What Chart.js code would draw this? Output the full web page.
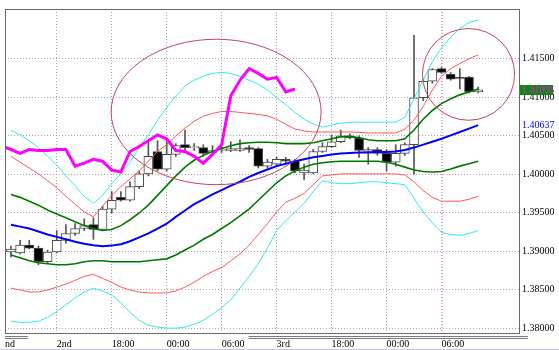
<!DOCTYPE html>
<html><head><meta charset="utf-8">
<script src="https://cdn.jsdelivr.net/npm/chart.js@4.4.0/dist/chart.umd.min.js"></script>
<style>html,body{margin:0;padding:0;background:#fff;overflow:hidden}#wrap{width:559px;height:350px}</style>
</head><body><div id="wrap"><canvas id="c" width="559" height="350"></canvas></div>
<script>
// ---- data (hourly bars, index 0..51) ----
const openP  = [1.38989,1.38977,1.39078,1.39040,1.38862,1.38989,1.39141,1.39230,1.39294,1.39344,
                1.39281,1.39547,1.39699,1.39661,1.39839,1.40004,1.40295,1.40067,1.40257,1.40384,
                1.40346,1.40346,1.40283,1.40308,1.40308,1.40308,1.40346,1.40333,1.40105,1.40130,
                1.40194,1.40169,1.40016,1.40016,1.40295,1.40359,1.40422,1.40498,1.40473,1.40295,
                1.40321,1.40270,1.40156,1.40270,1.40384,1.40993,1.41208,1.41373,1.41297,1.41259,
                1.41259,1.41069];
const highP  = [1.39065,1.39141,1.39141,1.39065,1.39015,1.39268,1.39344,1.39357,1.39420,1.39433,
                1.39585,1.39775,1.39775,1.39902,1.40042,1.40422,1.40435,1.40422,1.40397,1.40574,
                1.40397,1.40384,1.40371,1.40371,1.40422,1.40447,1.40371,1.40346,1.40194,1.40219,
                1.40219,1.40194,1.40130,1.40321,1.40409,1.40511,1.40574,1.40524,1.40498,1.40346,
                1.40346,1.40321,1.40384,1.40409,1.41804,1.41234,1.41373,1.41386,1.41322,1.41373,
                1.41272,1.41132];
const lowP   = [1.38926,1.38964,1.39027,1.38824,1.38837,1.38977,1.39103,1.39205,1.39268,1.39154,
                1.39268,1.39496,1.39649,1.39649,1.39813,1.39978,1.40042,1.40042,1.40232,1.40295,
                1.40308,1.40232,1.40257,1.40283,1.40295,1.40295,1.40283,1.40080,1.40080,1.40105,
                1.40143,1.40016,1.39928,1.40004,1.40283,1.40346,1.40409,1.40460,1.40219,1.40130,
                1.40245,1.40042,1.40105,1.40245,1.40004,1.40955,1.41183,1.41310,1.41221,1.41107,
                1.41056,1.41056];
const closeP = [1.39027,1.39078,1.39040,1.38862,1.38989,1.39141,1.39230,1.39294,1.39332,1.39281,
                1.39547,1.39661,1.39661,1.39839,1.40004,1.40232,1.40067,1.40257,1.40371,1.40346,
                1.40359,1.40270,1.40308,1.40321,1.40333,1.40333,1.40321,1.40105,1.40156,1.40194,
                1.40169,1.40042,1.40054,1.40295,1.40359,1.40422,1.40498,1.40473,1.40308,1.40321,
                1.40270,1.40156,1.40270,1.40384,1.40993,1.41208,1.41361,1.41322,1.41234,1.41246,
                1.41069,1.41095];
const middleBand = [1.39344,1.39319,1.39294,1.39256,1.39217,1.39186,1.39154,1.39122,1.39097,1.39078,
                1.39065,1.39072,1.39091,1.39129,1.39179,1.39230,1.39294,1.39357,1.39446,1.39528,
                1.39611,1.39674,1.39737,1.39794,1.39851,1.39902,1.39966,1.40016,1.40061,1.40105,
                1.40137,1.40169,1.40194,1.40219,1.40238,1.40257,1.40270,1.40276,1.40283,1.40283,
                1.40289,1.40289,1.40295,1.40314,1.40346,1.40384,1.40422,1.40460,1.40505,1.40549,
                1.40593,1.40637];
const band1Upper = [1.39737,1.39699,1.39649,1.39598,1.39535,1.39484,1.39433,1.39382,1.39332,1.39294,
                1.39268,1.39281,1.39332,1.39408,1.39496,1.39598,1.39725,1.39851,1.39978,1.40092,
                1.40181,1.40245,1.40295,1.40333,1.40371,1.40397,1.40409,1.40416,1.40416,1.40409,
                1.40397,1.40397,1.40397,1.40409,1.40435,1.40460,1.40485,1.40492,1.40473,1.40447,
                1.40435,1.40435,1.40435,1.40460,1.40574,1.40714,1.40828,1.40917,1.40980,1.41031,
                1.41069,1.41107];
const band1Lower = [1.38951,1.38913,1.38875,1.38850,1.38837,1.38824,1.38824,1.38837,1.38862,1.38875,
                1.38875,1.38862,1.38862,1.38862,1.38862,1.38875,1.38888,1.38900,1.38951,1.39015,
                1.39078,1.39154,1.39217,1.39294,1.39370,1.39458,1.39547,1.39661,1.39775,1.39889,
                1.39978,1.40042,1.40092,1.40130,1.40149,1.40162,1.40169,1.40169,1.40169,1.40169,
                1.40169,1.40156,1.40130,1.40092,1.40054,1.40035,1.40029,1.40035,1.40067,1.40105,
                1.40137,1.40169];
const band2Upper = [1.40232,1.40156,1.40080,1.40004,1.39915,1.39826,1.39712,1.39611,1.39509,1.39446,
                1.39585,1.39725,1.39839,1.39940,1.40042,1.40169,1.40295,1.40384,1.40498,1.40600,
                1.40688,1.40752,1.40790,1.40815,1.40815,1.40803,1.40790,1.40777,1.40758,1.40714,
                1.40650,1.40587,1.40562,1.40549,1.40549,1.40549,1.40549,1.40549,1.40543,1.40536,
                1.40536,1.40536,1.40536,1.40587,1.40701,1.40879,1.41094,1.41272,1.41373,1.41437,
                1.41500,1.41551];
const band2Lower = [1.38520,1.38495,1.38469,1.38469,1.38495,1.38533,1.38571,1.38621,1.38672,1.38698,
                1.38647,1.38596,1.38533,1.38495,1.38469,1.38457,1.38457,1.38457,1.38482,1.38533,
                1.38596,1.38672,1.38736,1.38786,1.38875,1.38964,1.39078,1.39217,1.39357,1.39509,
                1.39636,1.39687,1.39750,1.39864,1.39978,1.39991,1.40004,1.40004,1.40004,1.40004,
                1.40004,1.40004,1.40004,1.39991,1.39902,1.39788,1.39699,1.39649,1.39649,1.39649,
                1.39674,1.39712];
const band3Upper = [1.40574,1.40511,1.40435,1.40346,1.40232,1.40118,1.39978,1.39851,1.39712,1.39623,
                1.39725,1.39877,1.40004,1.40156,1.40346,1.40511,1.40701,1.40866,1.41018,1.41145,
                1.41221,1.41272,1.41310,1.41322,1.41310,1.41272,1.41221,1.41170,1.41094,1.40993,
                1.40904,1.40803,1.40714,1.40650,1.40612,1.40638,1.40663,1.40676,1.40676,1.40676,
                1.40676,1.40676,1.40676,1.40739,1.40980,1.41221,1.41462,1.41639,1.41779,1.41893,
                1.41969,1.42007];
const band3Lower = [1.38089,1.38076,1.38076,1.38089,1.38140,1.38216,1.38304,1.38393,1.38469,1.38520,
                1.38482,1.38431,1.38330,1.38203,1.38101,1.38038,1.38013,1.38000,1.38000,1.38013,
                1.38051,1.38101,1.38178,1.38266,1.38368,1.38520,1.38672,1.38837,1.39040,1.39268,
                1.39395,1.39509,1.39623,1.39775,1.39915,1.39889,1.39877,1.39877,1.39889,1.39902,
                1.39902,1.39889,1.39877,1.39864,1.39687,1.39509,1.39370,1.39243,1.39217,1.39205,
                1.39230,1.39268];
const laggingStart = -1;
const laggingSpan = [1.40371,1.40321,1.40270,1.40321,1.40308,1.40308,1.40321,1.40321,1.40105,1.40143,
                1.40194,1.40169,1.40054,1.40029,1.40295,1.40359,1.40435,1.40511,1.40460,1.40308,
                1.40295,1.40232,1.40143,1.40257,1.40384,1.41018,1.41221,1.41373,1.41310,1.41234,
                1.41259,1.41069,1.41107];
const xTickPos    = [-0.649, 5, 11, 17, 23, 29, 35, 41, 47];
const xTickLabels = ['nd','2nd','18:00','00:00','06:00','3rd','18:00','00:00','06:00'];
const yTicks = [1.380,1.385,1.390,1.395,1.400,1.405,1.410,1.415];
const ellipseCenterX = [22.4, 49.95];
const ellipseCenterY = [1.40809, 1.41297];
const ellipseRadiusX = [11.46, 5.03];
const ellipseRadiusY = [0.00945, 0.00596];
const separatorStart = [-0.649, 25.95];
const separatorEnd   = [1.84, 56.43];

// ---- build ----
const N = openP.length;
const idx = openP.map((_, k) => k);
const bodyData = idx.map(k => ({x: k, y: [openP[k], closeP[k]]}));
const wickData = idx.map(k => ({x: k, y: [lowP[k], highP[k]]}));
const bodyFill = idx.map(k => closeP[k] >= openP[k] ? '#ffffff' : '#000000');
const pts = (arr, start) => arr.map((v, k) => ({x: k + start, y: v}));
const lineDs = (arr, start, color, w, order) => ({type:'line', data: pts(arr, start), borderColor: color,
  borderWidth: w, pointRadius: 0, tension: 0, fill: false, order});

const FONT = "'Liberation Serif', 'Times New Roman', serif";
Chart.defaults.font.family = FONT;
Chart.defaults.font.size = 10;
Chart.defaults.color = '#000';
const gridCol = 'rgb(190,155,180)';

const deco = {
  id: 'deco',
  beforeDraw(chart) {
    const c = chart.ctx; c.save(); c.fillStyle = '#fff'; c.fillRect(0, 0, chart.width, chart.height); c.restore();
  },
  afterDatasetsDraw(chart) {
    const {ctx, chartArea: a, scales: {x, y}} = chart;
    ctx.save();
    ctx.beginPath(); ctx.rect(a.left, a.top, a.right - a.left, a.bottom - a.top); ctx.clip();
    ctx.strokeStyle = '#c04858'; ctx.lineWidth = 1;
    for (let k = 0; k < ellipseCenterX.length; k++) {
      const cx = x.getPixelForValue(ellipseCenterX[k]), cy = y.getPixelForValue(ellipseCenterY[k]);
      const rx = Math.abs(x.getPixelForValue(ellipseCenterX[k] + ellipseRadiusX[k]) - cx);
      const ry = Math.abs(y.getPixelForValue(ellipseCenterY[k] + ellipseRadiusY[k]) - cy);
      ctx.beginPath(); ctx.ellipse(cx, cy, rx, ry, 0, 0, Math.PI * 2); ctx.stroke();
    }
    ctx.restore();
  },
  afterDraw(chart) {
    const {ctx, chartArea: a, scales: {x, y}} = chart;
    ctx.save();
    ctx.strokeStyle = '#6a6a6a'; ctx.lineWidth = 1;
    ctx.strokeRect(a.left + 0.5, a.top + 0.5, a.right - a.left, a.bottom - a.top);
    ctx.strokeStyle = '#7a7a7a';
    for (let k = 0; k < separatorStart.length; k++) {
      const x0 = x.getPixelForValue(separatorStart[k]), x1 = x.getPixelForValue(separatorEnd[k]);
      [3.5, 5.5].forEach(dy => { ctx.beginPath(); ctx.moveTo(x0, a.bottom + dy); ctx.lineTo(x1, a.bottom + dy); ctx.stroke(); });
    }
    ctx.fillStyle = '#c8c8e4'; ctx.fillRect(0, chart.height - 1, chart.width, 1);
    ctx.font = '10px ' + FONT; ctx.textBaseline = 'middle'; ctx.textAlign = 'left';
    const yl = y.getPixelForValue(closeP[N - 1]);
    ctx.fillStyle = '#0c8a0c'; ctx.fillRect(a.right + 1, Math.round(yl) - 5, 33, 10);
    ctx.fillStyle = '#ff00ff'; ctx.fillText(closeP[N - 1].toFixed(5), a.right + 3, yl);
    const yb = y.getPixelForValue(middleBand[N - 1]);
    ctx.fillStyle = '#0000ff'; ctx.fillText(middleBand[N - 1].toFixed(5), a.right + 3, yb);
    ctx.restore();
  }
};

new Chart(document.getElementById('c'), {
  type: 'bar',
  data: { datasets: [
    {type:'bar', data: wickData, backgroundColor: '#555555', borderWidth: 0, barThickness: 1, grouped: false, order: 10},
    {type:'bar', data: bodyData, backgroundColor: bodyFill, borderColor: '#484848', borderWidth: 1,
     borderSkipped: false, barThickness: 9, minBarLength: 1, grouped: false, order: 9},
    lineDs(band3Upper, 0, '#30ecec', 1, 8),
    lineDs(band3Lower, 0, '#30ecec', 1, 8),
    lineDs(band2Upper, 0, '#ff5a5a', 1, 7),
    lineDs(band2Lower, 0, '#ff5a5a', 1, 7),
    lineDs(band1Upper, 0, '#007800', 1.6, 6),
    lineDs(band1Lower, 0, '#007800', 1.6, 6),
    lineDs(middleBand, 0, '#0000ff', 2, 5),
    lineDs(laggingSpan, laggingStart, '#ff00ff', 3, 4)
  ]},
  options: {
    responsive: false, animation: false, events: [], devicePixelRatio: 1,
    layout: { padding: { top: 1, left: 0, right: 0, bottom: 0 } },
    plugins: { legend: {display: false}, tooltip: {enabled: false} },
    scales: {
      x: {
        type: 'linear', position: 'bottom', min: -0.649, max: 55.459, offset: false,
        grid: { offset: false, drawTicks: false, color: c => (c.tick && c.tick.value === 47) ? 'rgb(225,165,220)' : gridCol,
                lineWidth: c => (c.tick && c.tick.value === 47) ? 2 : 1 },
        border: { display: false, dash: [1, 2] },
        afterBuildTicks: s => { s.ticks = xTickPos.map(v => ({value: v})); },
        ticks: { autoSkip: false, maxRotation: 0, minRotation: 0, align: 'start', padding: 5,
                 font: {size: 10}, callback: (v, i) => xTickLabels[i] },
        afterFit: s => { s.height = 17; }
      },
      y: {
        type: 'linear', position: 'right', min: 1.3793659, max: 1.4214674,
        grid: { drawTicks: false, color: gridCol },
        border: { display: false, dash: [1, 2] },
        afterBuildTicks: s => { s.ticks = yTicks.map(v => ({value: v})); },
        ticks: { padding: 3, font: {size: 10}, callback: v => Number(v).toFixed(5) },
        afterFit: s => { s.width = 40; }
      }
    }
  },
  plugins: [deco]
});
</script></body></html>
